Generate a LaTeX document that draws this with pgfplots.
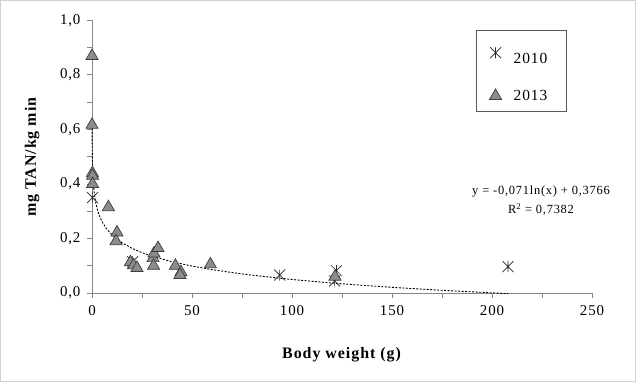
\documentclass[border=0pt]{standalone}
\usepackage{pgfplots}
\pgfplotsset{compat=1.18}
\usepackage{fontspec}
\setmainfont{Liberation Serif}[LetterSpace=6]
\definecolor{trifill}{RGB}{140,140,140}
\definecolor{triedge}{RGB}{60,60,60}
\definecolor{axgray}{RGB}{134,134,134}
\pgfdeclareplotmark{xstar}{%
  \pgfpathmoveto{\pgfqpoint{0pt}{\pgfplotmarksize}}%
  \pgfpathlineto{\pgfqpoint{0pt}{-\pgfplotmarksize}}%
  \pgfpathmoveto{\pgfqpoint{-\pgfplotmarksize}{-\pgfplotmarksize}}%
  \pgfpathlineto{\pgfqpoint{\pgfplotmarksize}{\pgfplotmarksize}}%
  \pgfpathmoveto{\pgfqpoint{-\pgfplotmarksize}{\pgfplotmarksize}}%
  \pgfpathlineto{\pgfqpoint{\pgfplotmarksize}{-\pgfplotmarksize}}%
  \pgfusepathqstroke}
\pgfplotstableread{
x y
0.3 0.35
20.3 0.115
93.8 0.066
122.2 0.082
121.3 0.044
208 0.097
}\dataA
\pgfplotstableread{
x y
0.03 0.870
0.03 0.617
0.2 0.440
0.3 0.430
0.3 0.400
8.2 0.315
12.5 0.222
12.0 0.190
19.2 0.113
20.8 0.102
22.5 0.092
30.5 0.128
30.8 0.100
31.0 0.145
33.0 0.165
41.7 0.100
44.5 0.076
44.0 0.066
59.2 0.105
121.5 0.060
}\dataB
\pgfplotstableread{
x y
0.034 0.6167
0.05 0.5893
0.1 0.5401
0.2 0.4909
0.35 0.4511
0.5 0.4258
0.75 0.3970
1 0.3766
1.5 0.3478
2 0.3274
3 0.2986
4 0.2782
5 0.2623
7 0.2384
10 0.2131
15 0.1843
20 0.1639
25 0.1481
30 0.1351
40 0.1147
50 0.0988
60 0.0859
70 0.0750
80 0.0655
100 0.0496
115 0.0397
130 0.0310
145 0.0232
160 0.0163
180 0.0079
195 0.0024
208 -0.0024
}\dataT
\begin{document}
\begin{tikzpicture}[x=1bp,y=1bp]
\useasboundingbox (0,0) rectangle (636,382);
\draw[black!18, line width=1bp] (0.5,0.5) rectangle (635.5,381.5);
\begin{axis}[
  at={(92bp,89bp)}, anchor=south west,
  scale only axis, width=500bp, height=272.5bp,
  xmin=0, xmax=250, ymin=0, ymax=1,
  clip=false,
  axis lines*=left,
  axis line style={axgray, line width=1bp, -},
  xtick={0,50,100,150,200,250},
  minor xtick={25,75,125,175,225},
  ytick={0,0.2,0.4,0.6,0.8,1},
  minor ytick={0.1,0.3,0.5,0.7,0.9},
  tick align=outside,
  major tick length=5bp, minor tick length=5bp,
  every tick/.style={axgray, line width=1bp},
  every minor tick/.style={axgray, line width=1bp},
  /pgf/number format/assume math mode=true,
  tick label style={font=\fontsize{15}{17}\selectfont, black},
  yticklabel style={xshift=-3bp, /pgf/number format/.cd, fixed, fixed zerofill, precision=1, use comma},
  xticklabel style={yshift=-4bp, /pgf/number format/.cd, fixed, precision=0},
  xlabel={\textbf{Body weight (g)}},
  ylabel={\textbf{mg TAN/kg min}},
  label style={font=\fontsize{16}{18}\selectfont},
  xlabel style={at={(axis description cs:0.5,-0.2275)}, anchor=center},
  ylabel style={at={(axis description cs:-0.12,0.5)}, anchor=center},
  legend style={at={(axis description cs:0.768,0.965)}, anchor=north west,
    draw=black!65, line width=1bp, inner xsep=13bp, inner ysep=8bp,
    row sep=21bp, font=\fontsize{15.5}{17}\selectfont,
    nodes={inner sep=2bp}},
  legend cell align=left,
]
\addplot[only marks, mark=xstar, mark size=5.5bp, mark options={black!85, line width=0.7bp}]
  table[x=x,y=y] {\dataA};
\addlegendentry{\rule{0pt}{23bp}\kern10bp 2010\kern4bp}
\addplot[only marks, mark=triangle*, mark size=7bp, mark options={fill=trifill, draw=triedge, line width=0.7bp}]
  table[x=x,y=y] {\dataB};
\addlegendentry{\kern10bp 2013\kern4bp}
\addplot[black, line width=0.9bp, dash pattern=on 2bp off 1.5bp, forget plot]
  table[x=x,y=y] {\dataT};
\node[align=center, font=\fontsize{12.5}{19}\selectfont] at (axis cs:224.5,0.338)
  {y = -0,071ln(x) + 0,3766\\R\textsuperscript{2} = 0,7382};
\end{axis}
\end{tikzpicture}
\end{document}
